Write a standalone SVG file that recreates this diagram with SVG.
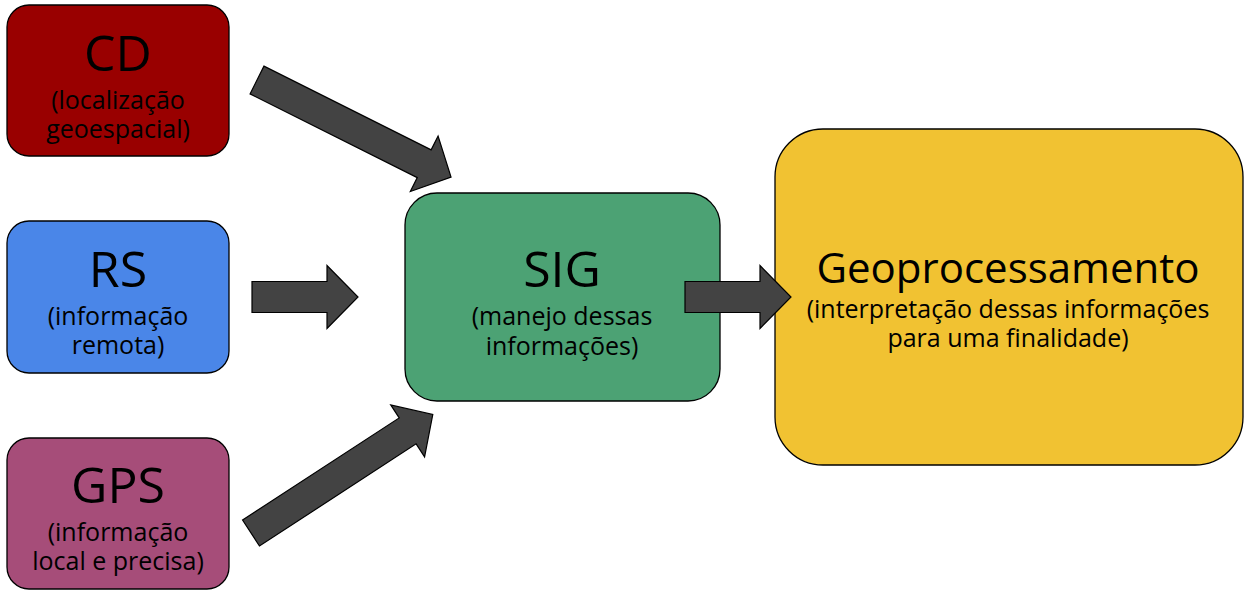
<svg xmlns="http://www.w3.org/2000/svg" width="1249" height="596" viewBox="0 0 1249 596">
  <style>
    .box { stroke: #000; stroke-width: 1.3; }
    .arrow { fill: #434343; stroke: #000; stroke-width: 1.2; stroke-linejoin: miter; }
    text { font-family: "Open Sans", "Noto Sans", "DejaVu Sans", sans-serif; fill: #000; text-anchor: middle; }
    .title { font-size: 50px; }
    .big { font-size: 42px; }
    .sub { font-size: 25px; }
  </style>
  <defs>
    <!-- block arrows, tail at origin pointing along +x -->
    <path id="arrow-short" d="M0,-15.5 H75 V-31.5 L106,0 L75,31.5 V15.5 H0 Z"/>
    <path id="arrow-long" d="M0,-15.5 H187 V-31 L217,0 L187,31 V15.5 H0 Z"/>
  </defs>
  <rect width="1249" height="596" fill="#fff"/>

  <g id="cd">
    <rect class="box" x="7" y="5" width="222" height="151" rx="22" fill="#990000"/>
    <text class="title" x="118" y="71">CD</text>
    <text class="sub" x="118" y="109">(localização<tspan x="118" dy="29">geoespacial)</tspan></text>
  </g>

  <g id="rs">
    <rect class="box" x="7" y="221" width="222" height="152" rx="22" fill="#4a86e8"/>
    <text class="title" x="118" y="287">RS</text>
    <text class="sub" x="118" y="325">(informação<tspan x="118" dy="29">remota)</tspan></text>
  </g>

  <g id="gps">
    <rect class="box" x="7" y="438" width="222" height="151" rx="22" fill="#a64d79"/>
    <text class="title" x="118" y="503">GPS</text>
    <text class="sub" x="118" y="541">(informação<tspan x="118" dy="29">local e precisa)</tspan></text>
  </g>

  <g id="sig">
    <rect class="box" x="405" y="193" width="315" height="208" rx="32" fill="#4ca274"/>
    <text class="title" x="562" y="287">SIG</text>
    <text class="sub" x="562" y="325">(manejo dessas<tspan x="562" dy="30">informações)</tspan></text>
  </g>

  <g id="geoprocessamento">
    <rect class="box" x="775" y="129" width="468" height="336" rx="48" fill="#f1c232"/>
    <text class="big" x="1008" y="283">Geoprocessamento</text>
    <text class="sub" x="1008" y="318">(interpretação dessas informações<tspan x="1008" dy="29">para uma finalidade)</tspan></text>
  </g>

  <!-- arrows sit above the boxes they touch -->
  <g id="connectors">
    <use href="#arrow-long" class="arrow" transform="translate(257,80) rotate(26.6)"/>
    <use href="#arrow-short" class="arrow" transform="translate(252,297)"/>
    <use href="#arrow-long" class="arrow" transform="translate(251,533) rotate(-33.1)"/>
    <use href="#arrow-short" class="arrow" transform="translate(685,297)"/>
  </g>
</svg>
